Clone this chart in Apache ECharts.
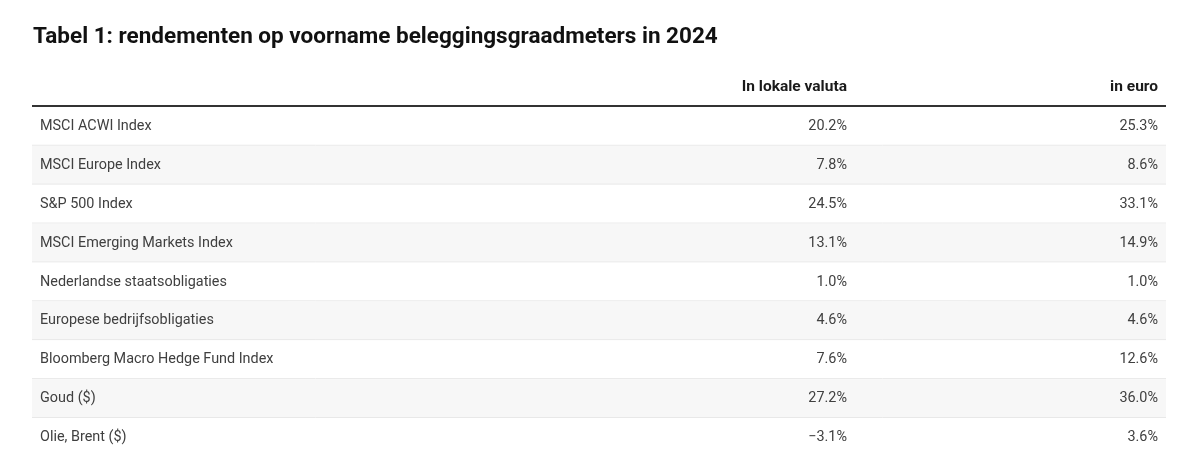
<!DOCTYPE html>
<html>
<head>
<meta charset="utf-8">
<script src="https://cdn.jsdelivr.net/npm/echarts@6/dist/echarts.min.js"></script>
<style>
  html, body { margin: 0; padding: 0; background: #fff; }
  #chart { width: 1200px; height: 462px; }
</style>
</head>
<body>
<div id="chart"></div>
<script>
const title = 'Tabel 1: rendementen op voorname beleggingsgraadmeters in 2024';
const columns = ['In lokale valuta', 'in euro'];
const indices = [
  'MSCI ACWI Index',
  'MSCI Europe Index',
  'S&P 500 Index',
  'MSCI Emerging Markets Index',
  'Nederlandse staatsobligaties',
  'Europese bedrijfsobligaties',
  'Bloomberg Macro Hedge Fund Index',
  'Goud ($)',
  'Olie, Brent ($)'
];
const localReturns = [20.2, 7.8, 24.5, 13.1, 1.0, 4.6, 7.6, 27.2, -3.1];
const euroReturns = [25.3, 8.6, 33.1, 14.9, 1.0, 4.6, 12.6, 36.0, 3.6];

// right edges of the value columns, as share of the table width
const colEdges = [0.7257, 1];
const pad = 8;

const rows = [''].concat(indices);

function fmt(v) {
  return v.toFixed(1).replace('-', '\u2212') + '%';
}

const chart = echarts.init(document.getElementById('chart'));

function renderRow(params, api) {
  const row = api.value(0);
  const left = api.coord([0, row]);
  const h = api.size([0, 1])[1];
  const cs = params.coordSys;
  const top = left[1] - h / 2;
  const cy = left[1];
  const children = [];
  const header = row === 0;

  if (!header) {
    children.push({
      type: 'rect',
      shape: { x: cs.x, y: top, width: cs.width, height: h },
      style: { fill: row % 2 === 0 ? '#f7f7f7' : '#ffffff' }
    });
  }
  if (header) {
    children.push({
      type: 'line',
      shape: { x1: cs.x, y1: top + h - 1, x2: cs.x + cs.width, y2: top + h - 1 },
      style: { stroke: '#333333', lineWidth: 2 }
    });
  } else if (row < rows.length - 1) {
    children.push({
      type: 'line',
      shape: { x1: cs.x, y1: top + h - 0.5, x2: cs.x + cs.width, y2: top + h - 0.5 },
      style: { stroke: '#e6e6e6', lineWidth: 1 }
    });
  }

  const font = {
    fontFamily: 'Roboto',
    fontSize: header ? 15.5 : 14.4,
    fontWeight: header ? 'bold' : 'normal',
    fill: header ? '#1a1a1a' : '#404040'
  };
  const vals = header ? columns : [fmt(localReturns[row - 1]), fmt(euroReturns[row - 1])];

  if (!header) {
    children.push({
      type: 'text',
      style: Object.assign({ x: cs.x + pad, y: cy, text: rows[row], align: 'left', verticalAlign: 'middle' }, font)
    });
  }
  vals.forEach(function (t, i) {
    const xr = api.coord([colEdges[i], row])[0];
    children.push({
      type: 'text',
      style: Object.assign({ x: xr - pad, y: cy, text: t, align: 'right', verticalAlign: 'middle' }, font)
    });
  });

  return { type: 'group', children: children };
}

chart.setOption({
  animation: false,
  title: {
    text: title,
    left: 33,
    top: 26,
    padding: 0,
    textStyle: { fontFamily: 'Roboto', fontSize: 22.5, fontWeight: 'bold', color: '#111111' }
  },
  grid: { left: 32, right: 34, top: 68, height: 389 },
  xAxis: { type: 'value', min: 0, max: 1, show: false },
  yAxis: { type: 'category', data: rows, inverse: true, show: false },
  series: [{
    type: 'custom',
    renderItem: renderRow,
    data: rows.map(function (r, i) { return [i]; }),
    encode: { y: 0 },
    silent: true
  }]
});
</script>
</body>
</html>
